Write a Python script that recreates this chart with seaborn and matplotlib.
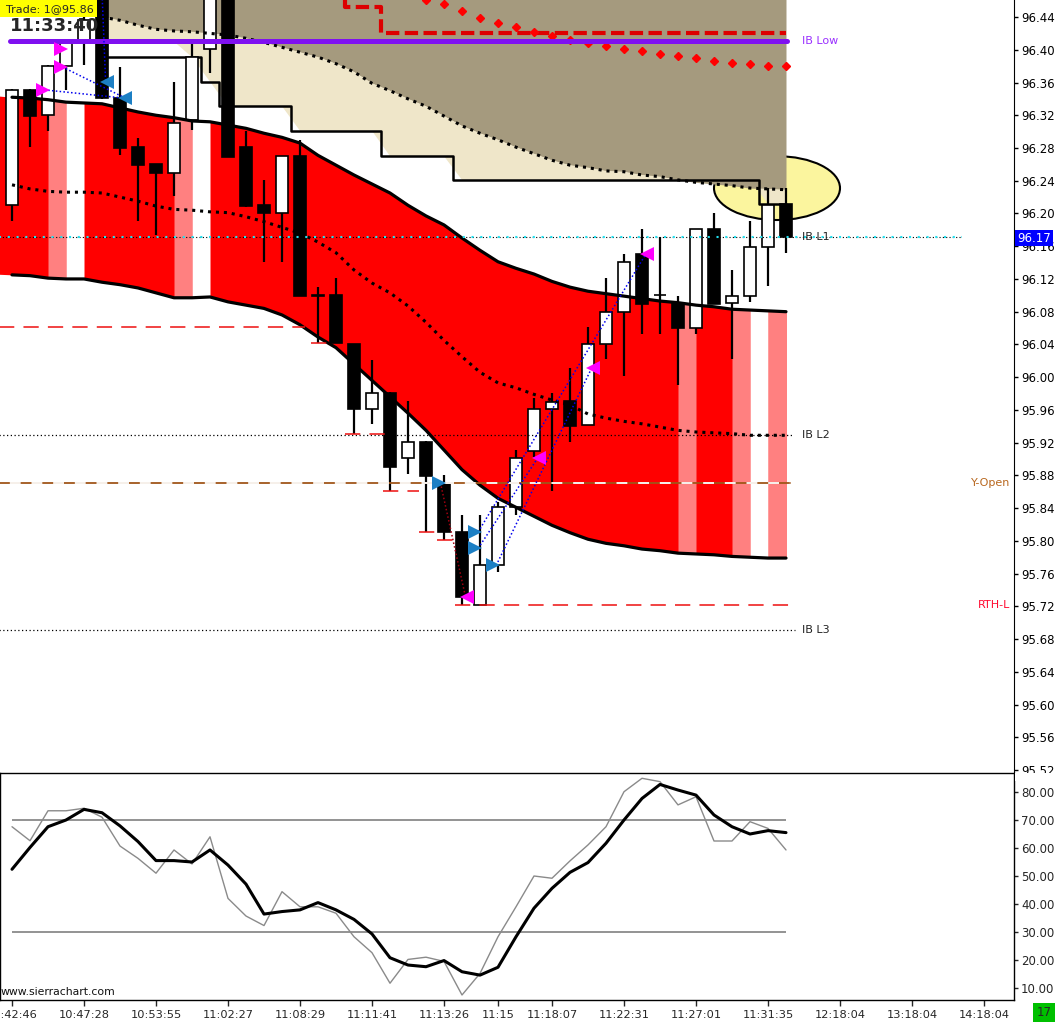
import numpy as np
import pandas as pd
import matplotlib
matplotlib.use("Agg")
import matplotlib.pyplot as plt
import seaborn as sns
from matplotlib.patches import Ellipse, Rectangle

# --- candles (bar index 0..43) ---
bars = list(range(44))
opens = [96.210, 96.351, 96.320, 96.380, 96.409, 96.470, 96.341, 96.281, 96.260, 96.249,
         96.314, 96.401, 96.470, 96.281, 96.210, 96.200, 96.270, 96.100, 96.100, 96.040,
         95.961, 95.981, 95.901, 95.921, 95.869, 95.811, 95.722, 95.770, 95.841, 95.910,
         95.961, 95.971, 95.942, 96.040, 96.080, 96.150, 96.100, 96.091, 96.060, 96.181,
         96.091, 96.099, 96.159, 96.212]
highs = [96.352, 96.352, 96.381, 96.410, 96.445, 96.480, 96.379, 96.292, 96.261, 96.361,
         96.411, 96.480, 96.480, 96.301, 96.241, 96.270, 96.290, 96.110, 96.121, 96.041,
         96.021, 95.982, 95.971, 95.922, 95.880, 95.832, 95.832, 95.847, 95.911, 95.975,
         95.981, 96.011, 96.061, 96.121, 96.150, 96.181, 96.171, 96.099, 96.181, 96.201,
         96.131, 96.191, 96.231, 96.231]
lows = [96.191, 96.281, 96.301, 96.351, 96.381, 96.340, 96.271, 96.191, 96.174, 96.221,
        96.302, 96.372, 96.269, 96.208, 96.141, 96.141, 96.099, 96.042, 96.042, 95.931,
        95.943, 95.861, 95.882, 95.811, 95.801, 95.722, 95.722, 95.762, 95.832, 95.902,
        95.861, 95.921, 95.942, 96.022, 96.001, 96.053, 96.053, 95.990, 96.053, 96.089,
        96.022, 96.092, 96.111, 96.152]
closes = [96.351, 96.319, 96.380, 96.409, 96.436, 96.341, 96.280, 96.259, 96.249, 96.310,
          96.391, 96.465, 96.269, 96.209, 96.200, 96.270, 96.099, 96.099, 96.042, 95.961,
          95.981, 95.890, 95.921, 95.879, 95.811, 95.731, 95.770, 95.841, 95.901, 95.961,
          95.970, 95.940, 96.040, 96.080, 96.141, 96.089, 96.100, 96.060, 96.181, 96.089,
          96.099, 96.159, 96.210, 96.171]

# --- red band (bar -1..43) ---
band_x = list(range(-1, 44))
band_upper = [96.344, 96.342, 96.341, 96.339, 96.336, 96.335, 96.334, 96.329, 96.324, 96.320,
              96.317, 96.313, 96.312, 96.308, 96.304, 96.298, 96.293, 96.286, 96.271, 96.259,
              96.247, 96.236, 96.225, 96.210, 96.197, 96.186, 96.170, 96.155, 96.141, 96.133,
              96.126, 96.117, 96.110, 96.105, 96.102, 96.099, 96.096, 96.093, 96.091, 96.088,
              96.086, 96.083, 96.082, 96.081, 96.080]
band_lower = [96.126, 96.125, 96.124, 96.121, 96.120, 96.120, 96.116, 96.113, 96.109, 96.103,
              96.097, 96.097, 96.098, 96.092, 96.088, 96.084, 96.076, 96.064, 96.049, 96.036,
              96.016, 95.996, 95.976, 95.956, 95.935, 95.911, 95.887, 95.868, 95.852, 95.841,
              95.830, 95.819, 95.810, 95.802, 95.797, 95.794, 95.790, 95.788, 95.785, 95.784,
              95.783, 95.781, 95.780, 95.779, 95.779]
band_mid = [96.237, 96.235, 96.230, 96.227, 96.226, 96.226, 96.225, 96.220, 96.215, 96.209,
            96.205, 96.204, 96.202, 96.201, 96.196, 96.190, 96.183, 96.176, 96.165, 96.152,
            96.131, 96.115, 96.103, 96.087, 96.067, 96.045, 96.025, 96.006, 95.993, 95.987,
            95.979, 95.972, 95.966, 95.955, 95.950, 95.946, 95.943, 95.939, 95.935, 95.933,
            95.932, 95.931, 95.929, 95.929, 95.929]
pink_bars = [2, 9, 37, 40, 42]
white_bars = [3, 10, 41]

# --- upper zone (bar 5..43) ---
zone_x = list(range(5, 44))
zone_dots = [96.440, 96.436, 96.430, 96.425, 96.423, 96.422, 96.420, 96.418, 96.414, 96.409,
             96.403, 96.397, 96.391, 96.383, 96.373, 96.359, 96.350, 96.340, 96.331, 96.319,
             96.307, 96.298, 96.290, 96.281, 96.273, 96.265, 96.259, 96.256, 96.252, 96.251,
             96.247, 96.245, 96.241, 96.238, 96.236, 96.234, 96.231, 96.230, 96.229]
zone_steps = [96.391] * 6 + [96.361] + [96.331] * 4 + [96.301] * 5 + [96.270] * 4 + \
             [96.241] * 17 + [96.212] * 2
zone_beige_low = [96.410] * 5 + zone_steps[5:]

# red stepped line and red dotted line at the top
red_step_x = list(range(17, 44))
red_step = [96.470] * 2 + [96.452] * 2 + [96.4205] * 23
red_dot_x = list(range(23, 44))
red_dots = [96.461, 96.456, 96.447, 96.439, 96.433, 96.428, 96.422, 96.417, 96.412, 96.408,
            96.405, 96.401, 96.398, 96.395, 96.392, 96.390, 96.386, 96.384, 96.383, 96.380,
            96.380]

# horizontal levels
ib_low = 96.411
ib_l1 = 96.171
ib_l2 = 95.929
ib_l3 = 95.691
y_open = 95.871
last_price = 96.17

# red dashed lows: price, start bar, end bar
low_lines = [(96.061, -0.7, 16.3), (96.042, 16.6, 17.8), (95.931, 18.5, 21.0),
             (95.861, 20.6, 22.6), (95.811, 22.6, 23.6), (95.801, 23.6, 24.5),
             (95.722, 24.6, 43.5)]

# trades
entry_mag_x = [1.7, 2.7, 2.7]
entry_mag_y = [96.351, 96.379, 96.401]
exit_blue_x = [5.3, 6.3]
exit_blue_y = [96.361, 96.341]
entry_blue_x = [23.7, 25.7, 25.7, 26.7]
entry_blue_y = [95.871, 95.811, 95.791, 95.770]
exit_mag_x = [25.3, 29.3, 32.3, 35.3]
exit_mag_y = [95.731, 95.901, 96.011, 96.150]
blue_links = [((1.8, 96.351), (6.2, 96.341)), ((2.8, 96.379), (6.2, 96.342)),
              ((5.0, 96.47), (5.2, 96.361)), ((25.9, 95.811), (35.2, 96.150)),
              ((25.9, 95.791), (29.2, 95.901)), ((26.9, 95.770), (32.2, 96.011))]
red_links = [((23.8, 95.871), (25.2, 95.731))]

# oscillator
osc_fast = [67.6, 62.6, 73.3, 73.3, 74.2, 71.0, 60.7, 56.3, 51.0, 59.3, 54.3, 64.0, 42.0, 35.7,
            32.3, 44.4, 39.0, 39.0, 36.7, 28.3, 22.6, 11.7, 20.2, 21.0, 19.5, 7.5, 15.2, 28.3,
            39.0, 50.0, 49.2, 55.4, 61.1, 67.6, 80.1, 84.9, 83.7, 75.4, 78.3, 62.5, 62.5, 69.4,
            67.0, 59.3]
osc_slow = [52.4, 60.2, 67.6, 70.0, 73.8, 72.6, 67.9, 62.3, 55.5, 55.5, 55.0, 59.3, 53.9, 47.1,
            36.4, 37.3, 37.9, 40.5, 37.9, 34.5, 29.3, 20.8, 18.2, 17.6, 19.8, 15.8, 14.6, 17.4,
            28.3, 38.5, 45.6, 51.3, 54.8, 61.7, 70.0, 77.7, 82.7, 80.7, 78.9, 71.8, 67.6, 65.0,
            66.2, 65.5]
osc_levels = [70, 30]

time_ticks = [0, 4, 8, 12, 16, 20, 24, 27, 30, 34, 38, 42, 46, 50, 54]
time_labels = ["10:42:46", "10:47:28", "10:53:55", "11:02:27", "11:08:29", "11:11:41",
               "11:13:26", "11:15", "11:18:07", "11:22:31", "11:27:01", "11:31:35",
               "12:18:04", "13:18:04", "14:18:04"]
price_ticks = [95.52, 95.56, 95.60, 95.64, 95.68, 95.72, 95.76, 95.80, 95.84, 95.88, 95.92,
               95.96, 96.00, 96.04, 96.08, 96.12, 96.16, 96.20, 96.24, 96.28, 96.32, 96.36,
               96.40, 96.44]
osc_ticks = [10, 20, 30, 40, 50, 60, 70, 80]

sns.set_style("white")
plt.rcParams['font.family'] = ['DejaVu Sans']

W, H = 1055, 1022
fig = plt.figure(figsize=(W / 100, H / 100), dpi=100)
ax = fig.add_axes([0, 1 - 773 / H, 1014 / W, 773 / H])
axo = fig.add_axes([0, 1 - 1000 / H, 1014 / W, 227 / H], sharex=ax)

ax.set_xlim(-0.667, 55.667)
ax.set_ylim(95.5164, 96.4608)

# upper zone: khaki / beige / step
ax.add_patch(Ellipse((42.5, 96.231), 7.0, 0.078, facecolor='#fbf59e', edgecolor='k',
                     lw=1.5, zorder=0.9))
ax.fill_between(zone_x, zone_dots, 96.48, color='#a59a7e', lw=0, zorder=1)
zd, zb = np.array(zone_dots), np.array(zone_beige_low)
ax.fill_between(zone_x, zb, zd, where=zd > zb, interpolate=True, color='#efe6c9', lw=0, zorder=1)
ax.plot(zone_x, zone_steps, drawstyle='steps-mid', color='k', lw=1.8, zorder=2)

# red band with stripes
ax.fill_between(band_x, band_lower, band_upper, color='#ff0000', lw=0, zorder=2)
for k in pink_bars + white_bars:
    c = '#ff8080' if k in pink_bars else 'white'
    ax.fill_between(band_x[k + 1:k + 3], band_lower[k + 1:k + 3], band_upper[k + 1:k + 3],
                    color=c, lw=0, zorder=2.1)

# candles
o, c = np.array(opens), np.array(closes)
body_col = ['white' if cc >= oo else 'black' for oo, cc in zip(o, c)]
ax.vlines(bars, lows, highs, color='k', lw=1.6, zorder=5)
ax.bar(bars, np.abs(c - o), bottom=np.minimum(o, c), width=0.66, color=body_col,
       edgecolor='k', lw=1.2, zorder=5.5)

# band lines
sns.lineplot(x=band_x[1:], y=band_upper[1:], ax=ax, color='k', lw=2.3, zorder=6)
sns.lineplot(x=band_x[1:], y=band_lower[1:], ax=ax, color='k', lw=2.3, zorder=6)
ax.plot(band_x[1:], band_mid[1:], color='k', lw=2.2, ls=(0, (1, 1.6)), zorder=6)
ax.plot(zone_x, zone_dots, color='k', lw=2.2, ls=(0, (1, 1.6)), zorder=6)

# top red lines and purple IB low
ax.plot(red_step_x, red_step, drawstyle='steps-mid', color='#dd0000', lw=3,
        ls=(0, (3.2, 1.3)), zorder=6)
ax.plot(red_dot_x, red_dots, ls='none', marker='D', ms=3.6, color='#ff0000', zorder=6)
ax.plot([-0.1, 43.05], [ib_low, ib_low], color='#7f10f0', lw=3.6, solid_capstyle='round', zorder=6)

# level lines
ax.plot([-0.7, 52.8], [ib_l1, ib_l1], color='k', lw=0.8, ls=(0, (1, 2)), zorder=6.5)
ax.plot([-0.7, 52.8], [ib_l1, ib_l1], color='#22e0f0', lw=1.5, ls=(0, (1, 3.2)), zorder=6.6)
ax.plot([-0.7, 43.4], [ib_l2, ib_l2], color='k', lw=0.9, ls=(0, (1, 2)), zorder=6.5)
ax.plot([-0.7, 43.5], [ib_l3, ib_l3], color='k', lw=0.9, ls=(0, (1, 2)), zorder=6.5)
ax.plot([-0.7, 43.2], [y_open, y_open], color='#a0561a', lw=1.3, zorder=6.5)
ax.plot([-0.7, 43.2], [y_open, y_open], color='white', lw=1.3, ls=(6, (6, 6)), zorder=6.6)
for p, x0, x1 in low_lines:
    ax.plot([x0, x1], [p, p], color='#ee1010', lw=1.1, ls=(0, (10, 6)), zorder=6.5)

# trades
for (x0, y0), (x1, y1) in blue_links:
    ax.plot([x0, x1], [y0, y1], color='#0000ee', lw=1.1, ls=(0, (1, 1.5)), zorder=7)
for (x0, y0), (x1, y1) in red_links:
    ax.plot([x0, x1], [y0, y1], color='#a00010', lw=1.1, ls=(0, (1, 1.5)), zorder=7)
ax.plot(entry_mag_x, entry_mag_y, ls='none', marker='>', ms=10, color='#ff00ff', mew=0, zorder=8)
ax.plot(exit_mag_x, exit_mag_y, ls='none', marker='<', ms=10, color='#ff00ff', mew=0, zorder=8)
ax.plot(entry_blue_x, entry_blue_y, ls='none', marker='>', ms=10, color='#1c7fc4', mew=0, zorder=8)
ax.plot(exit_blue_x, exit_blue_y, ls='none', marker='<', ms=10, color='#1c7fc4', mew=0, zorder=8)

# labels on the right of the levels
ax.text(43.9, ib_low, "IB Low", color='#9a30ff', fontsize=8, va='center', zorder=9)
ax.text(43.9, ib_l1, "IB L1", color='#222222', fontsize=8, va='center', zorder=9)
ax.text(43.9, ib_l2, "IB L2", color='#222222', fontsize=8, va='center', zorder=9)
ax.text(43.9, ib_l3, "IB L3", color='#222222', fontsize=8, va='center', zorder=9)
ax.text(55.45, y_open, "Y-Open", color='#b8671e', fontsize=8, va='center', ha='right', zorder=9)
ax.text(55.45, 95.722, "RTH-L", color='#ff0a30', fontsize=8, va='center', ha='right', zorder=9)

# price axis
ax.yaxis.tick_right()
ax.set_yticks(price_ticks)
ax.set_yticklabels([f"{v:.2f}" for v in price_ticks])
ax.tick_params(axis='y', direction='out', length=3, width=1, pad=2, labelsize=8.5,
               colors='black', right=True)
ax.tick_params(axis='x', bottom=False, labelbottom=False)
ax.text(1.003, last_price, f"{last_price:.2f}", transform=ax.get_yaxis_transform(),
        color='white', fontsize=8.5, va='center', ha='left', clip_on=False, zorder=20,
        bbox=dict(boxstyle='square,pad=0.15', facecolor='#0000ff', edgecolor='none'))
for side in ['top', 'left', 'bottom']:
    ax.spines[side].set_visible(False)
ax.spines['right'].set_color('k')
ax.set_xlabel('')
ax.set_ylabel('')

# oscillator panel
osc = pd.DataFrame({'bar': bars, 'fast': osc_fast, 'slow': osc_slow})
axo.hlines(osc_levels, 0, 43, color='#808080', lw=1.2, zorder=1)
sns.lineplot(data=osc, x='bar', y='fast', ax=axo, color='#8a8a8a', lw=1.0, zorder=2)
sns.lineplot(data=osc, x='bar', y='slow', ax=axo, color='k', lw=2.2, zorder=3)
axo.set_ylim(5.71, 86.79)
axo.yaxis.tick_right()
axo.set_yticks(osc_ticks)
axo.set_yticklabels([f"{v:.2f}" for v in osc_ticks])
axo.set_xticks(time_ticks)
axo.set_xticklabels(time_labels)
axo.tick_params(axis='y', direction='out', length=3, width=1, pad=2, labelsize=8.5, right=True)
axo.tick_params(axis='x', direction='out', length=4, width=1, pad=3, labelsize=8.2, bottom=True)
for side in ['top', 'left', 'bottom', 'right']:
    axo.spines[side].set_visible(True)
    axo.spines[side].set_color('k')
    axo.spines[side].set_linewidth(1.0)
axo.set_xlabel('')
axo.set_ylabel('')
axo.set_xlim(-0.667, 55.667)

# overlays in figure space
fig.add_artist(Rectangle((1015 / W, 1 - 781 / H), 40 / W, 8 / H, transform=fig.transFigure,
                         facecolor='white', edgecolor='none', zorder=10))
fig.add_artist(Rectangle((0, 1 - 17 / H), 97 / W, 17 / H, transform=fig.transFigure,
                         facecolor='#ffff00', edgecolor='none', zorder=10))
fig.text(6 / W, 1 - 9 / H, "Trade: 1@95.86", fontsize=8, va='center', ha='left', zorder=11)
fig.text(10 / W, 1 - 26 / H, "11:33:40", fontsize=13, fontweight='bold', va='center',
         ha='left', zorder=11)
fig.text(1 / W, 1 - 992 / H, "www.sierrachart.com", fontsize=7.8, va='center', ha='left',
         zorder=11, color='#111111')
fig.add_artist(Rectangle((1033 / W, 0), 22 / W, 19 / H, transform=fig.transFigure,
                         facecolor='#00c000', edgecolor='none', zorder=10))
fig.text(1044 / W, 10 / H, "17", fontsize=8.5, va='center', ha='center', zorder=11)

fig.savefig("out.png", dpi=100)
